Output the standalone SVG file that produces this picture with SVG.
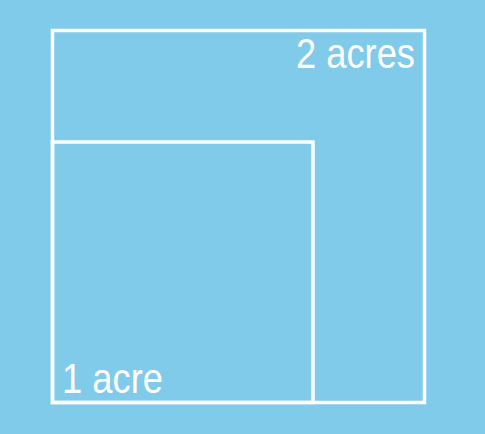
<svg xmlns="http://www.w3.org/2000/svg" width="485" height="434" viewBox="0 0 485 434">
<style>
.box{fill:none;stroke:#fff;stroke-width:3.5}
.lbl{fill:#fff;font-family:"Liberation Sans Narrow","Liberation Sans",Arial,sans-serif;font-size:43px}
</style>
<rect width="485" height="434" fill="#80CAEA"/>
<g id="two-acres">
<rect class="box" x="52.5" y="30.5" width="372" height="372"/>
<text class="lbl" x="296" y="68" textLength="119" lengthAdjust="spacingAndGlyphs">2 acres</text>
</g>
<g id="one-acre">
<rect class="box" x="52.5" y="142" width="260.5" height="260.5"/>
<text class="lbl" x="62" y="393" textLength="101" lengthAdjust="spacingAndGlyphs">1 acre</text>
</g>
<g id="connectors"/>
</svg>
